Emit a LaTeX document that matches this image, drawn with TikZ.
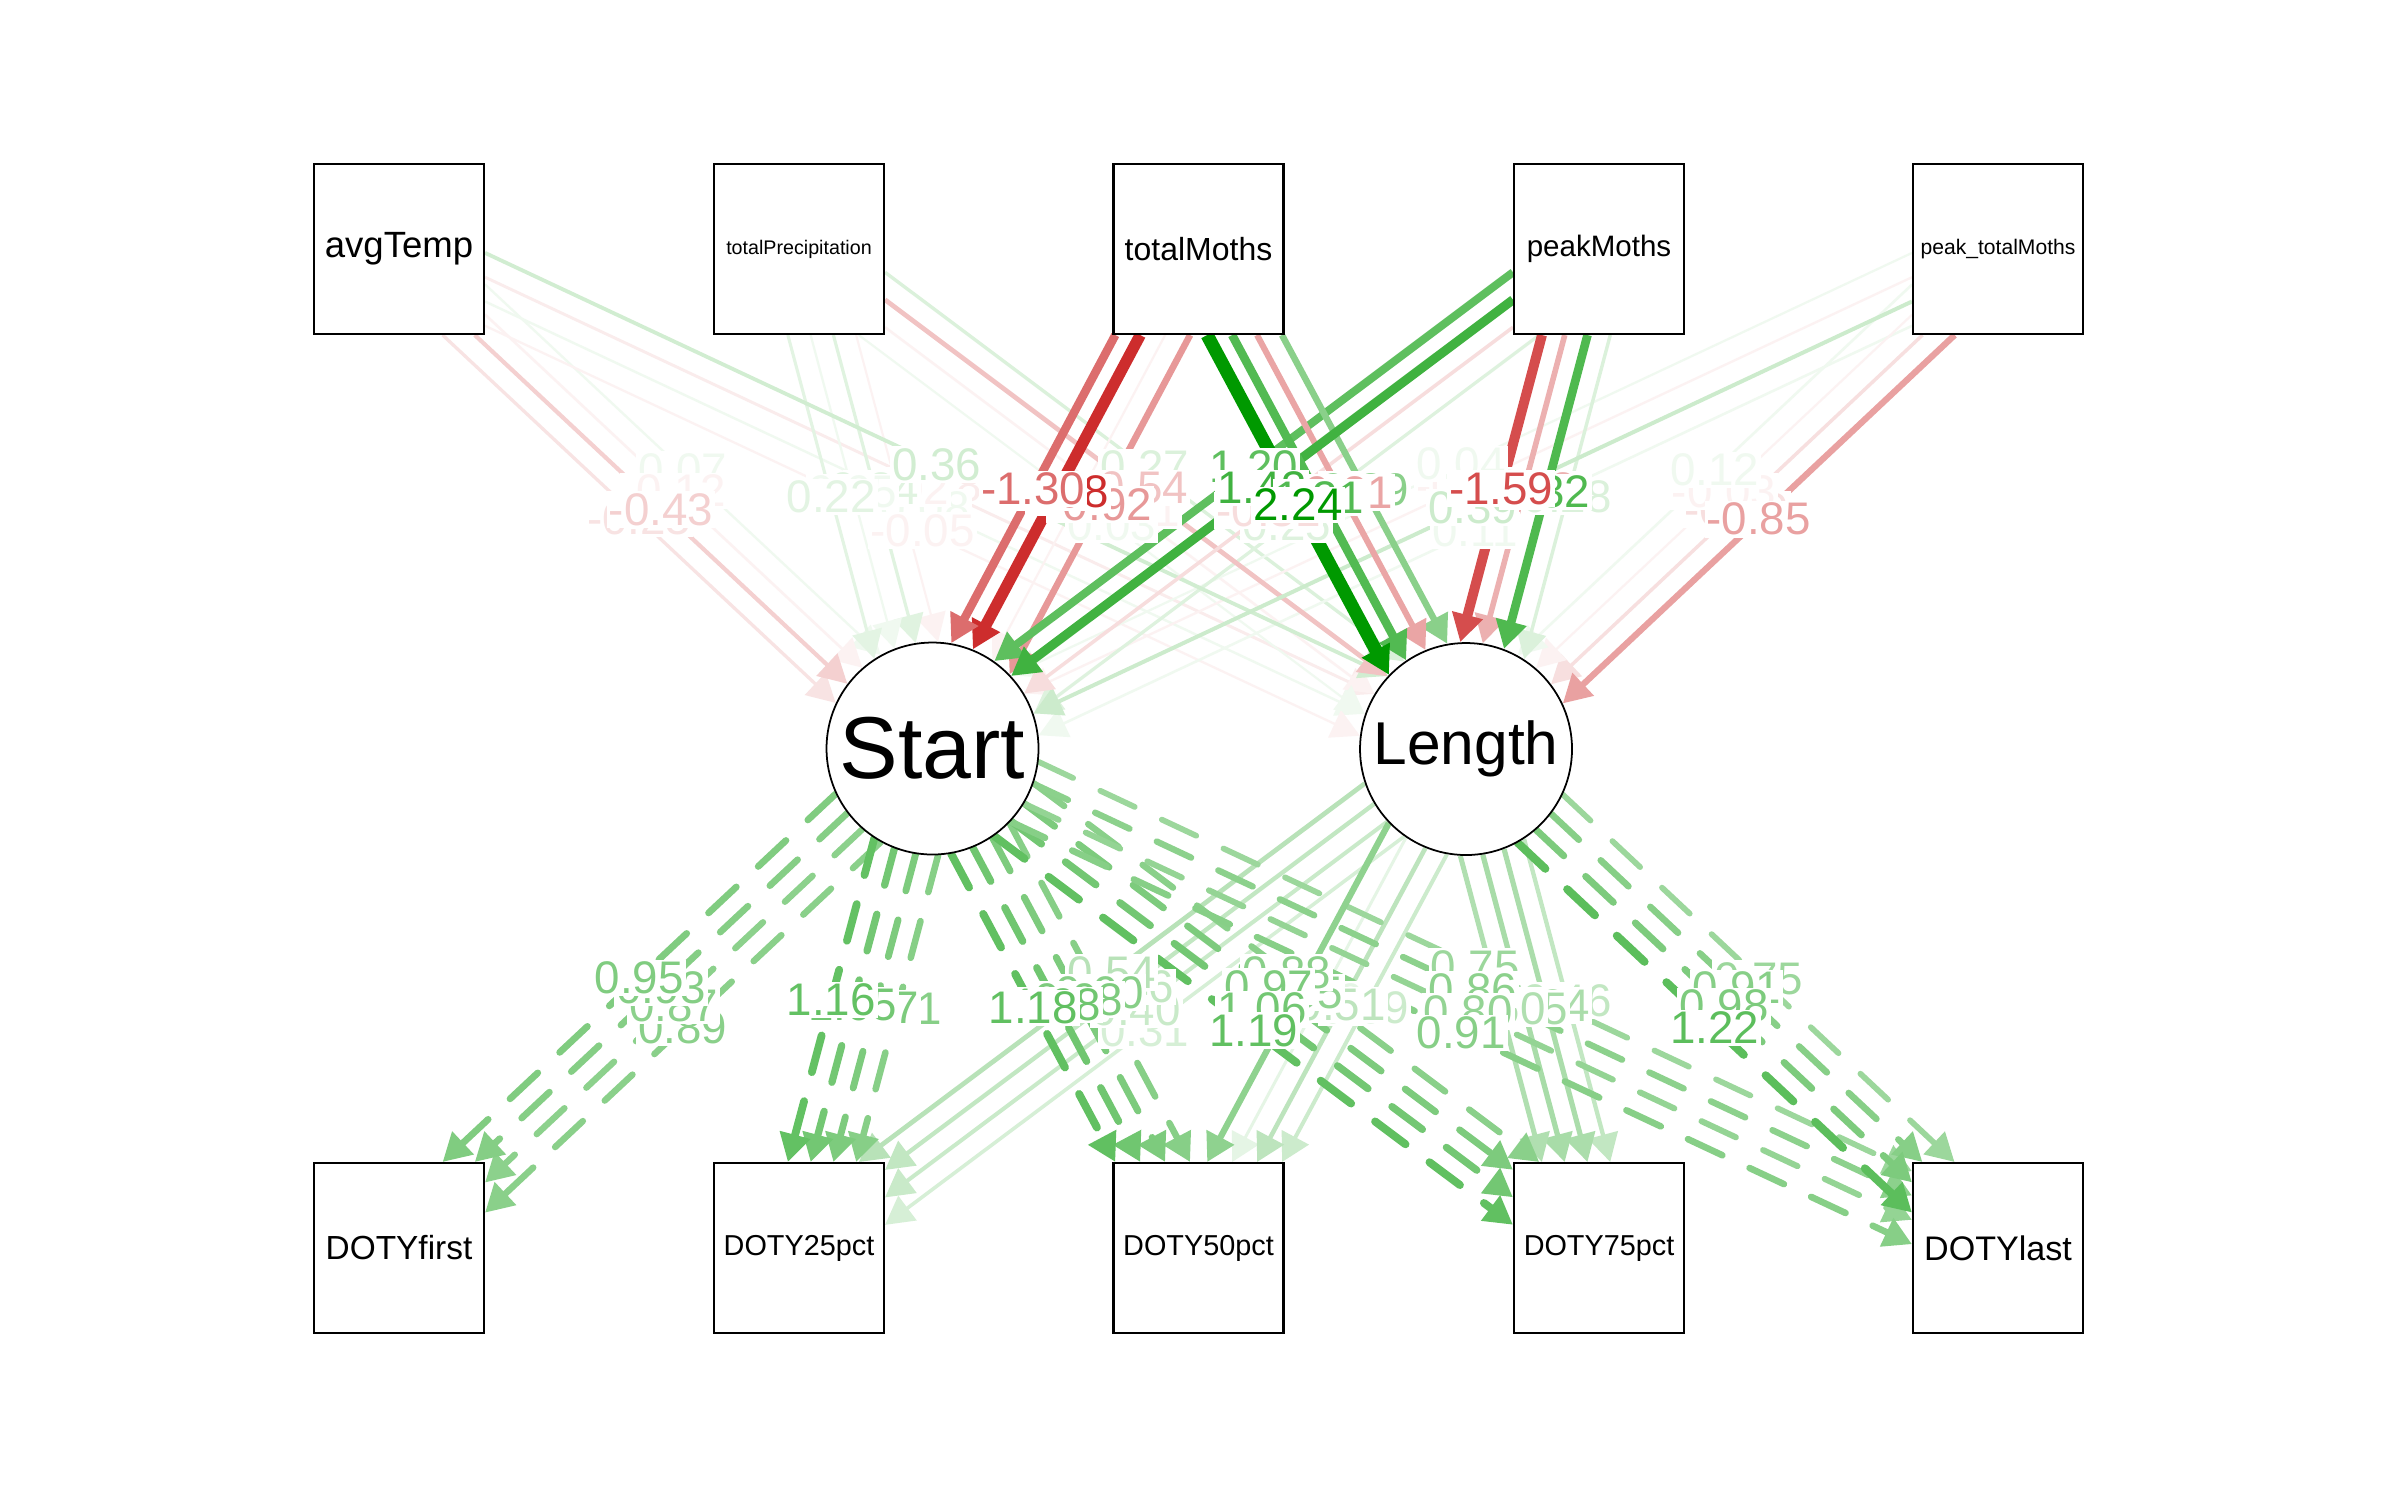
\documentclass[tikz,border=0pt]{standalone}
\usepackage{fontspec}
\setmainfont{Liberation Sans}
\usetikzlibrary{arrows.meta,calc,intersections}
\pgfdeclarelayer{bg}
\pgfdeclarelayer{e1}\pgfdeclarelayer{e2}\pgfdeclarelayer{e3}\pgfdeclarelayer{e4}
\pgfdeclarelayer{l1}\pgfdeclarelayer{l2}\pgfdeclarelayer{l3}\pgfdeclarelayer{l4}
\pgfsetlayers{bg,e1,e2,e3,e4,main,l1,l2,l3,l4}
\definecolor{posc}{RGB}{0,153,0}
\definecolor{negc}{RGB}{204,41,41}
\tikzset{
  obs/.style={draw, line width=0.6pt, fill=white, minimum size=1.7cm, inner sep=0pt},
  lat/.style={draw, circle, line width=0.5pt, fill=white, minimum size=2.12cm, inner sep=0pt},
  elabel/.style={fill=white, inner sep=0.6pt, font=\fontsize{13}{13}\selectfont},
  edgeE/.style={-{Triangle[length=0.28cm,width=0.30cm]}},
  solidE/.style={},
  dashedE/.style={dash pattern=on 0.38cm off 0.30cm, line cap=round},
}
% #1 source, #2 target, #3 offset (cm), #4 value, #5 style
\newcommand\sedge[5]{%
  \path[name path global=tmpl] ($(#1)!#3cm!90:(#2)$) -- ($(#2)!#3cm!-90:(#1)$);
  \path[name intersections={of=tmpl and #1b, by=pa}];
  \path[name intersections={of=tmpl and #2b, by=pb}];
  \pgfmathsetmacro\ab{abs(#4)}%
  \pgfmathtruncatemacro\fp{max(6,min(100,\ab/1.9*100))}%
  \pgfmathsetmacro\lw{(2+5*\ab)*0.2845}%
  \pgfmathtruncatemacro\isneg{#4<0 ? 1 : 0}%
  \pgfmathtruncatemacro\lay{\ab<0.3 ? 1 : (\ab<0.8 ? 2 : (\ab<1.3 ? 3 : 4))}%
  \ifnum\isneg=1 \colorlet{ec}{negc!\fp!white}\else\colorlet{ec}{posc!\fp!white}\fi
  \begin{pgfonlayer}{e\lay}
    \draw[edgeE, #5, draw=ec, line width=\lw pt] (pa) -- (pb);
  \end{pgfonlayer}
  \begin{pgfonlayer}{l\lay}
    \node[elabel, text=ec] at ($(pa)!0.5!(pb)$) {#4};
  \end{pgfonlayer}
}
\newcommand\fourE[7]{%
  \sedge{#1}{#2}{0.33}{#3}{#7}%
  \sedge{#1}{#2}{0.11}{#4}{#7}%
  \sedge{#1}{#2}{-0.11}{#5}{#7}%
  \sedge{#1}{#2}{-0.33}{#6}{#7}%
}
\begin{document}
\begin{tikzpicture}
\begin{pgfonlayer}{bg}
\fill[white] (0,0) rectangle (24,-15);
\end{pgfonlayer}
\useasboundingbox (0,0) rectangle (24,-15);
% observed top
\node[obs, font=\fontsize{10.4}{12}\selectfont] (avgTemp) at (3.99,-2.49) {avgTemp};
\node[obs, font=\fontsize{5.6}{7}\selectfont] (totalPrecipitation) at (7.99,-2.49) {totalPrecipitation};
\node[obs, font=\fontsize{9.1}{11}\selectfont] (totalMoths) at (11.985,-2.49) {totalMoths};
\node[obs, font=\fontsize{8.4}{10}\selectfont] (peakMoths) at (15.99,-2.49) {peakMoths};
\node[obs, font=\fontsize{6}{7}\selectfont] (peaktotalMoths) at (19.98,-2.49) {peak\_totalMoths};
% latent
\node[lat, font=\fontsize{25}{28}\selectfont] (Start) at (9.325,-7.485) {Start};
\node[lat, font=\fontsize{17.2}{20}\selectfont] (Length) at (14.66,-7.49) {Length};
% observed bottom
\node[obs, font=\fontsize{9.5}{11}\selectfont] (DOTYfirst) at (3.99,-12.48) {DOTYfirst};
\node[obs, font=\fontsize{8.2}{10}\selectfont] (DOTY25pct) at (7.99,-12.48) {DOTY25pct};
\node[obs, font=\fontsize{8.2}{10}\selectfont] (DOTY50pct) at (11.985,-12.48) {DOTY50pct};
\node[obs, font=\fontsize{8.2}{10}\selectfont] (DOTY75pct) at (15.99,-12.48) {DOTY75pct};
\node[obs, font=\fontsize{9.7}{11}\selectfont] (DOTYlast) at (19.98,-12.48) {DOTYlast};
% border paths
\path[name path global=avgTempb] (avgTemp.south west) rectangle (avgTemp.north east);
\path[name path global=totalPrecipitationb] (totalPrecipitation.south west) rectangle (totalPrecipitation.north east);
\path[name path global=totalMothsb] (totalMoths.south west) rectangle (totalMoths.north east);
\path[name path global=peakMothsb] (peakMoths.south west) rectangle (peakMoths.north east);
\path[name path global=peaktotalMothsb] (peaktotalMoths.south west) rectangle (peaktotalMoths.north east);
\path[name path global=DOTYfirstb] (DOTYfirst.south west) rectangle (DOTYfirst.north east);
\path[name path global=DOTY25pctb] (DOTY25pct.south west) rectangle (DOTY25pct.north east);
\path[name path global=DOTY50pctb] (DOTY50pct.south west) rectangle (DOTY50pct.north east);
\path[name path global=DOTY75pctb] (DOTY75pct.south west) rectangle (DOTY75pct.north east);
\path[name path global=DOTYlastb] (DOTYlast.south west) rectangle (DOTYlast.north east);
\path[name path global=Startb] (Start) circle[radius=1.07cm];
\path[name path global=Lengthb] (Length) circle[radius=1.07cm];
% structural edges
\fourE{avgTemp}{Start}{0.07}{-0.12}{-0.43}{-0.25}{solidE}
\fourE{avgTemp}{Length}{0.36}{-0.18}{0.08}{-0.05}{solidE}
\fourE{totalPrecipitation}{Start}{-0.02}{0.24}{0.05}{0.22}{solidE}
\fourE{totalPrecipitation}{Length}{0.27}{-0.54}{-0.11}{0.03}{solidE}
\fourE{peaktotalMoths}{Start}{0.11}{0.39}{-0.06}{0.04}{solidE}
\fourE{peaktotalMoths}{Length}{-0.85}{-0.29}{-0.03}{0.12}{solidE}
\fourE{totalMoths}{Start}{-0.92}{-0.03}{-1.88}{-1.30}{solidE}
\fourE{peakMoths}{Start}{0.25}{-0.31}{1.43}{1.20}{solidE}
\fourE{totalMoths}{Length}{0.89}{-0.81}{1.31}{2.24}{solidE}
\fourE{peakMoths}{Length}{0.28}{1.32}{-0.72}{-1.59}{solidE}
% measurement edges
\fourE{Length}{DOTY25pct}{0.31}{0.40}{0.46}{0.54}{solidE}
\fourE{Length}{DOTY50pct}{0.39}{0.51}{0.19}{0.85}{solidE}
\fourE{Length}{DOTY75pct}{0.46}{0.64}{0.65}{0.60}{solidE}
\fourE{Start}{DOTYfirst}{0.89}{0.87}{0.93}{0.95}{dashedE}
\fourE{Start}{DOTY25pct}{0.91}{0.97}{1.05}{1.16}{dashedE}
\fourE{Start}{DOTY50pct}{0.90}{0.98}{1.08}{1.18}{dashedE}
\fourE{Start}{DOTY75pct}{0.88}{0.97}{1.06}{1.19}{dashedE}
\fourE{Start}{DOTYlast}{0.75}{0.86}{0.80}{0.91}{dashedE}
\fourE{Length}{DOTYlast}{0.75}{0.91}{0.98}{1.22}{dashedE}
\end{tikzpicture}
\end{document}
